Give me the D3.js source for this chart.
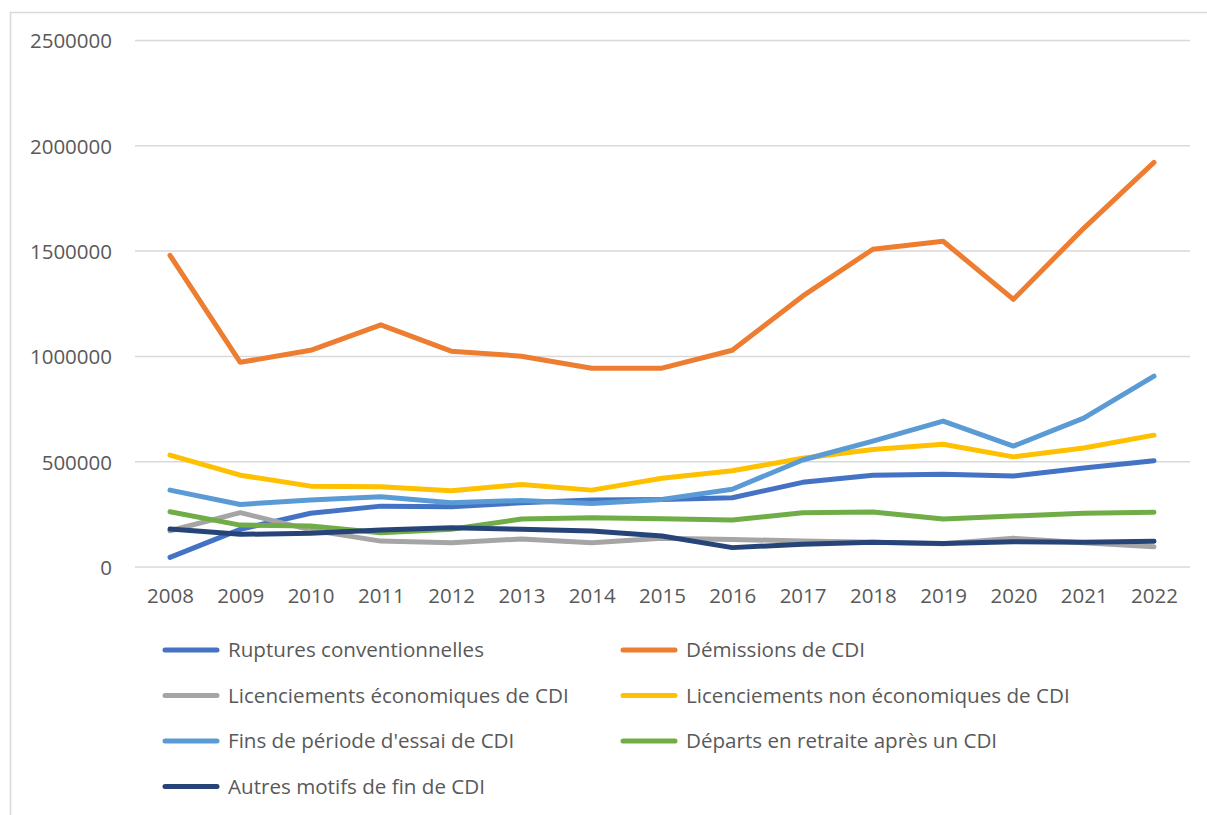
<!DOCTYPE html>
<meta charset="utf-8">
<head>
	<script src="https://d3js.org/d3.v7.min.js"></script>
	<style>
		body { margin: 0; background: #fff; }
		text { font-family: "Open Sans", Lato, sans-serif; fill: #595959; }
		.grid line { stroke: #d9d9d9; stroke-width: 1.5; }
	</style>
</head>
<body>
<div id="D3_Chart"></div>
<script>
	'use strict';

	// chart data
	var years = ["2008","2009","2010","2011","2012","2013","2014","2015","2016","2017","2018","2019","2020","2021","2022"];
	var yTicks = [0, 500000, 1000000, 1500000, 2000000, 2500000];

	var ruptures = [46000, 179000, 255000, 289000, 286000, 305000, 318000, 321000, 329000, 402000, 436000, 440000, 432000, 470000, 504000];
	var demissions = [1480000, 972000, 1029000, 1150000, 1025000, 1001000, 944000, 944000, 1029000, 1286000, 1509000, 1547000, 1271000, 1608000, 1921000];
	var licEco = [172000, 258000, 176000, 123000, 115000, 133000, 115000, 136000, 131000, 123000, 118000, 110000, 136000, 115000, 96000];
	var licNonEco = [531000, 436000, 384000, 381000, 362000, 392000, 365000, 421000, 457000, 516000, 558000, 583000, 523000, 565000, 626000];
	var finsEssai = [365000, 297000, 318000, 334000, 305000, 316000, 302000, 321000, 369000, 508000, 598000, 693000, 574000, 707000, 906000];
	var departsRetraite = [262000, 199000, 195000, 163000, 179000, 228000, 234000, 229000, 223000, 258000, 261000, 228000, 242000, 255000, 260000];
	var autresMotifs = [180000, 155000, 160000, 176000, 186000, 179000, 171000, 147000, 92000, 108000, 117000, 112000, 120000, 117000, 122000];

	var seriesNames = ["Ruptures conventionnelles", "Démissions de CDI", "Licenciements économiques de CDI",
		"Licenciements non économiques de CDI", "Fins de période d'essai de CDI", "Départs en retraite après un CDI",
		"Autres motifs de fin de CDI"];
	var seriesValues = [ruptures, demissions, licEco, licNonEco, finsEssai, departsRetraite, autresMotifs];
	var seriesColors = ["#4472C4", "#ED7D31", "#A5A5A5", "#FFC000", "#5B9BD5", "#70AD47", "#264478"];

	var width = 1207;
	var height = 815;
	var plot = { left: 135, right: 1190, top: 40.5, bottom: 567 };

	var svg = d3.select("#D3_Chart")
		.append("svg")
		.attr("width", width)
		.attr("height", height);

	// outer chart frame (runs off the right and bottom edge)
	svg.append("rect")
		.attr("x", 10.5).attr("y", 12.5)
		.attr("width", width).attr("height", height)
		.attr("fill", "none")
		.attr("stroke", "#d9d9d9")
		.attr("stroke-width", 1.5);

	var xscale = d3.scalePoint()
		.domain(years)
		.range([170, 1154]);

	var yscale = d3.scaleLinear()
		.domain([0, 2500000])
		.range([plot.bottom, plot.top]);

	// gridlines
	svg.append("g")
		.attr("class", "grid")
		.selectAll("line")
		.data(yTicks)
		.enter()
		.append("line")
		.attr("x1", plot.left)
		.attr("x2", plot.right)
		.attr("y1", function(d) { return yscale(d); })
		.attr("y2", function(d) { return yscale(d); });

	// y axis labels
	var yaxis = d3.axisLeft(yscale).tickValues(yTicks).tickFormat(d3.format("d")).tickSize(0).tickPadding(0);
	svg.append("g")
		.attr("transform", "translate(112,0)")
		.call(yaxis)
		.call(function(g) { g.select(".domain").remove(); })
		.selectAll("text")
		.attr("font-size", "20.5px")
		.attr("dy", "0.36em")
		.style("font-family", "'Open Sans', Lato, sans-serif")
		.attr("fill", "#595959");

	// x axis labels
	var xaxis = d3.axisBottom(xscale).tickSize(0).tickPadding(0);
	svg.append("g")
		.attr("transform", "translate(0,588)")
		.call(xaxis)
		.call(function(g) { g.select(".domain").remove(); })
		.selectAll("text")
		.attr("font-size", "20.5px")
		.attr("dy", "0.72em")
		.style("font-family", "'Open Sans', Lato, sans-serif")
		.attr("fill", "#595959");

	var line = d3.line()
		.x(function(d, i) { return xscale(years[i]); })
		.y(function(d) { return yscale(d); });

	svg.append("g")
		.selectAll("path")
		.data(seriesValues)
		.enter()
		.append("path")
		.attr("d", line)
		.attr("fill", "none")
		.attr("stroke", function(d, i) { return seriesColors[i]; })
		.attr("stroke-width", 5)
		.attr("stroke-linejoin", "round")
		.attr("stroke-linecap", "round");

	// legend, two columns
	var legend = svg.append("g")
		.selectAll("g")
		.data(seriesNames)
		.enter()
		.append("g")
		.attr("transform", function(d, i) {
			var col = i % 2;
			var row = Math.floor(i / 2);
			return "translate(" + (col == 0 ? 165 : 623) + "," + (650 + row * 45.5) + ")";
		});

	legend.append("line")
		.attr("x1", 0).attr("x2", 52)
		.attr("y1", 0).attr("y2", 0)
		.attr("stroke", function(d, i) { return seriesColors[i]; })
		.attr("stroke-width", 5)
		.attr("stroke-linecap", "round");

	legend.append("text")
		.attr("x", 63)
		.attr("y", 0)
		.attr("dy", "0.36em")
		.attr("font-size", "20.6px")
		.text(function(d) { return d; });
</script>
</body>
